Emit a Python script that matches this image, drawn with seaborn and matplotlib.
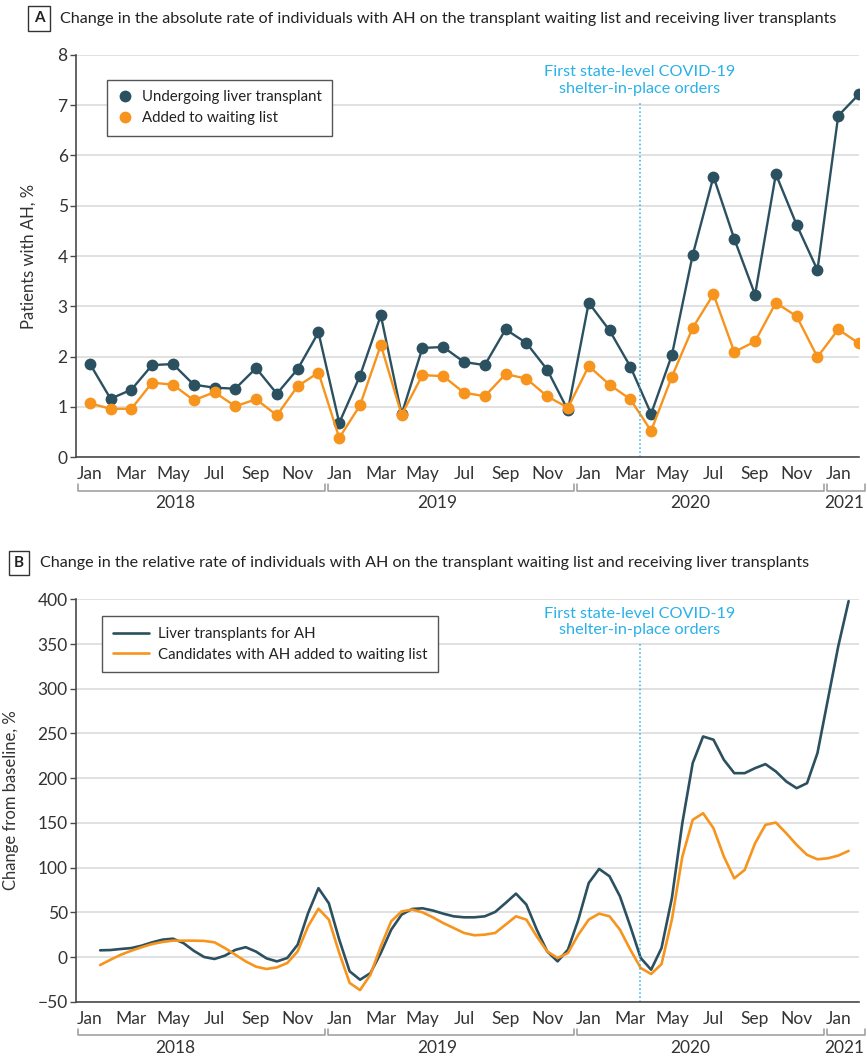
import numpy as np
import pandas as pd
import matplotlib
matplotlib.use("Agg")
import matplotlib.pyplot as plt
import seaborn as sns

# months run Jan 2018 (0) .. Feb 2021 (37)
month_names = ["Jan", "Feb", "Mar", "Apr", "May", "Jun",
               "Jul", "Aug", "Sep", "Oct", "Nov", "Dec"]
years = ["2018", "2019", "2020", "2021"]
year_label_pos = [4.1, 16.7, 28.9, 36.3]
year_span = [(-0.55, 11.3), (11.45, 23.3), (23.45, 35.3), (35.45, 37.3)]

# panel A: absolute rate, %
transplant_pct = [1.86, 1.16, 1.34, 1.83, 1.85, 1.44, 1.38, 1.36, 1.77, 1.26, 1.75, 2.48,
                  0.68, 1.62, 2.82, 0.85, 2.17, 2.19, 1.89, 1.83, 2.54, 2.27, 1.74, 0.93,
                  3.07, 2.52, 1.80, 0.86, 2.03, 4.02, 5.58, 4.34, 3.23, 5.63, 4.62, 3.72,
                  6.79, 7.22]
waitlist_pct = [1.07, 0.96, 0.96, 1.48, 1.44, 1.13, 1.29, 1.01, 1.15, 0.83, 1.41, 1.68,
                0.38, 1.03, 2.23, 0.84, 1.63, 1.61, 1.28, 1.21, 1.65, 1.56, 1.21, 0.98,
                1.81, 1.44, 1.15, 0.52, 1.60, 2.57, 3.24, 2.09, 2.30, 3.07, 2.80, 1.99,
                2.54, 2.26]

# panel B: change from baseline, %, read every half month from mid-Jan 2018
transplant_chg = [7.5, 7.8, 9, 10, 12.7, 16.4, 19.4, 20.5, 15.7, 7, 0, -2.2, 1.5, 8, 11, 6,
                  -1.5, -4.9, -1.1, 13.8, 49, 77, 60, 19.4, -16, -25.4, -18, 4.5, 30.6, 47.4,
                  53.7, 54.5, 52, 48.5, 45.5, 44.4, 44.4, 45.5, 50.4, 60.4, 70.9, 58.6, 30.6,
                  6.3, -4.9, 8.2, 41.8, 82.8, 98.5, 90.3, 67.9, 34.3, -1.1, -14.2, 10, 66,
                  149.6, 216.8, 246.6, 243, 220.5, 205.6, 205.6, 211.2, 215.7, 207.5, 196.3,
                  188.8, 194.4, 228, 287.7, 347.4, 398]
waitlist_chg = [-9, -3, 2.6, 7, 11, 14.5, 16.8, 18.3, 18.3, 18.3, 18, 16.4, 10, 2.6, -4.9,
                -10.8, -13.4, -11.6, -6.7, 6.3, 34.3, 54, 41.8, 4.5, -29, -37, -19.8, 12, 40,
                51, 53, 50, 44.4, 38, 32.5, 26.9, 24.3, 25, 26.9, 36.2, 45.5, 41.8, 23, 6.3,
                -1.1, 4.5, 25, 41.8, 48.5, 45.5, 30.6, 8.2, -12.3, -19, -8, 42, 112, 153.4,
                160.8, 144, 112.3, 88, 97.4, 127.2, 147.8, 150.4, 138.4, 125.4, 114.2, 109.3,
                110.4, 113.4, 118.7]

shelter_in_place = 26.45  # mid-March 2020

DARK = "#2b5060"
ORANGE = "#f7941d"
BLUE = "#29b1e8"
AXIS = "#4a4a4a"

sns.set_theme(style="white")
plt.rcParams["font.family"] = ["Lato", "DejaVu Sans"]
plt.rcParams["text.color"] = "#222222"
FS = 11.5

n_months = len(transplant_pct)
month_idx = np.arange(n_months)
dfA = pd.DataFrame({
    "month": np.concatenate([month_idx, month_idx]),
    "value": transplant_pct + waitlist_pct,
    "series": ["Undergoing liver transplant"] * n_months + ["Added to waiting list"] * n_months,
})
half_idx = np.arange(len(transplant_chg)) * 0.5 + 0.5
dfB = pd.DataFrame({
    "month": np.concatenate([half_idx, half_idx]),
    "value": transplant_chg + waitlist_chg,
    "series": ["Liver transplants for AH"] * len(half_idx)
              + ["Candidates with AH added to waiting list"] * len(half_idx),
})

fig = plt.figure(figsize=(8.67, 10.57), dpi=100)
axA = fig.add_axes([0.0877, 0.5676, 0.9031, 0.3804])
axB = fig.add_axes([0.0877, 0.0523, 0.9031, 0.3807])

sns.lineplot(data=dfA, x="month", y="value", hue="series", ax=axA,
             palette=[DARK, ORANGE], marker="o", markersize=8.5, markeredgewidth=0,
             linewidth=1.7)
sns.lineplot(data=dfB, x="month", y="value", hue="series", ax=axB,
             palette=[DARK, ORANGE], linewidth=1.9)


def style_axis(ax, ylim, yticks, ylabel, label_x):
    ax.set_xlim(-0.66, 37)
    ax.set_ylim(*ylim)
    ax.set_yticks(yticks)
    ax.set_xticks(month_idx)
    ax.set_xticklabels([month_names[i % 12] if i % 2 == 0 else "" for i in month_idx])
    ax.tick_params(axis="x", length=4, width=1, color=AXIS, labelsize=FS + 1, pad=2.5,
                   labelcolor="#333333")
    ax.tick_params(axis="y", length=4, width=1, color=AXIS, labelsize=FS + 1, pad=2,
                   labelcolor="#333333", left=True)
    ax.yaxis.grid(True, color="#dedede", linewidth=1.3)
    ax.set_axisbelow(True)
    for side in ["top", "right"]:
        ax.spines[side].set_visible(False)
    for side in ["left", "bottom"]:
        ax.spines[side].set_color(AXIS)
        ax.spines[side].set_linewidth(1.2)
    ax.set_xlabel("")
    ax.set_ylabel(ylabel, fontsize=FS + 0.5, color="#333333")
    ax.yaxis.set_label_coords(label_x, 0.5)

    # year brackets below the month labels
    tr = ax.get_xaxis_transform()
    h = ax.get_window_extent().height
    y_bar = -33.5 / h
    y_end = -27 / h
    for yr, (x0, x1), xl in zip(years, year_span, year_label_pos):
        ax.plot([x0, x0, x1, x1], [y_end, y_bar, y_bar, y_end], transform=tr,
                color="#9a9a9a", linewidth=1.1, clip_on=False)
        ax.text(xl, -46 / h, yr, transform=tr, ha="center", va="center",
                fontsize=FS + 1, color="#333333")


style_axis(axA, (0, 8), range(0, 9), "Patients with AH, %", -0.0498)
style_axis(axB, (-50, 400), range(-50, 401, 50), "Change from baseline, %", -0.0728)

# shelter-in-place marker
axA.plot([shelter_in_place, shelter_in_place], [0, 7.05], color=BLUE, linestyle=":",
         linewidth=1.1)
axA.text(shelter_in_place, 7.49, "First state-level COVID-19\nshelter-in-place orders",
         ha="center", va="center", color=BLUE, fontsize=FS + 0.2, linespacing=1.2)
axB.plot([shelter_in_place, shelter_in_place], [-50, 350], color=BLUE, linestyle=":",
         linewidth=1.1)
axB.text(shelter_in_place, 375, "First state-level COVID-19\nshelter-in-place orders",
         ha="center", va="center", color=BLUE, fontsize=FS + 0.2, linespacing=1.2)

# legends
for ax, anchor in [(axA, (0.0396, 0.938)), (axB, (0.0332, 0.9575))]:
    handles, labels = ax.get_legend_handles_labels()
    leg = ax.legend(handles, labels, loc="upper left", bbox_to_anchor=anchor,
                    borderaxespad=0, frameon=True, fancybox=False, framealpha=1,
                    edgecolor="#555555", fontsize=FS - 0.7,
                    handlelength=1.0 if ax is axA else 2.4,
                    handletextpad=0.6, borderpad=0.7, labelspacing=0.45)
    leg.get_frame().set_linewidth(1.0)
    if ax is axA:
        for line in leg.get_lines():
            line.set_linestyle("none")

# panel labels and titles
titles = [
    ("A", 39, 18.5, 60, "Change in the absolute rate of individuals with AH on the transplant "
                        "waiting list and receiving liver transplants"),
    ("B", 19, 563, 40, "Change in the relative rate of individuals with AH on the transplant "
                       "waiting list and receiving liver transplants"),
]
W, H = 867, 1057
for letter, bx, by, tx, title in titles:
    fig.text(bx / W, 1 - by / H, letter, ha="center", va="center", fontsize=FS - 0.5,
             fontweight="bold", color="#222222",
             bbox=dict(boxstyle="square,pad=0.35", fc="white", ec="#333333", lw=1))
    fig.text(tx / W, 1 - by / H, title, ha="left", va="center", fontsize=FS + 0.1,
             color="#222222")

fig.savefig("out.png", dpi=100)
